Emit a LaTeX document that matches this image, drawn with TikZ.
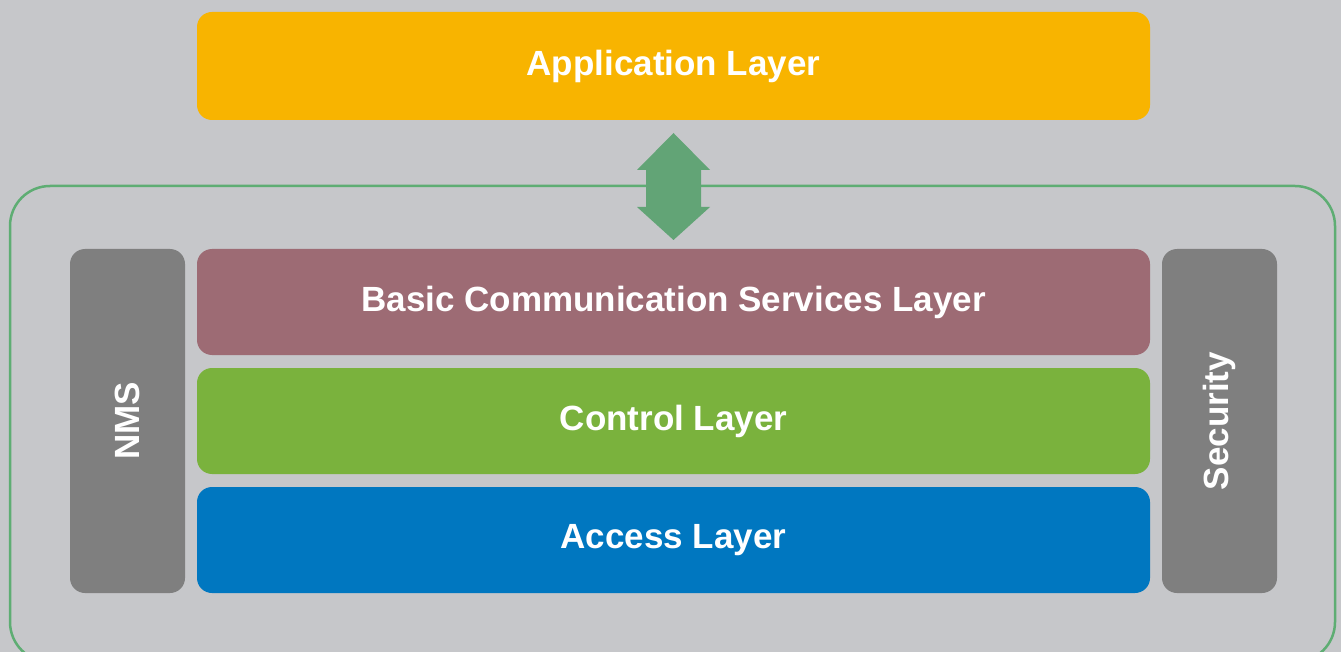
\documentclass[tikz,border=0pt]{standalone}
\usepackage{fontspec}
\setmainfont{Liberation Sans}
\definecolor{bg}{HTML}{C6C7CA}
\definecolor{appc}{HTML}{F8B400}
\definecolor{bcsc}{HTML}{9D6B74}
\definecolor{ctlc}{HTML}{7AB23D}
\definecolor{accc}{HTML}{0077C0}
\definecolor{sidec}{HTML}{7F7F7F}
\definecolor{framec}{HTML}{5EAD73}
\definecolor{arrowc}{HTML}{62A476}
\tikzset{
  layerbox/.style={rounded corners=15pt, inner sep=0pt},
  sidebox/.style={layerbox, fill=sidec},
  label/.style={text=white, inner sep=0pt, font=\fontsize{35}{40}\selectfont\bfseries},
}
\begin{document}
\begin{tikzpicture}[x=1pt,y=-1pt]
  \useasboundingbox (0,0) rectangle (1341,652);
  \fill[bg] (0,0) rectangle (1341,652);
  \begin{scope}
    \clip (0,0) rectangle (1341,652);
    % outer frame around the stack
    \draw[framec, line width=2.5pt, rounded corners=40pt] (10,186) rectangle (1335,662);
  \end{scope}
  % application layer on top
  \node[layerbox, fill=appc, minimum width=953pt, minimum height=108pt] (app) at (673.5,66) {};
  \node[label] (appt) at (673.5,66) {Application Layer};
  % stacked layers
  \node[layerbox, fill=bcsc, minimum width=953pt, minimum height=106pt] (bcs) at (673.5,302) {};
  \node[label] (bcst) at (673.5,302) {Basic Communication Services Layer};
  \node[layerbox, fill=ctlc, minimum width=953pt, minimum height=106pt] (ctl) at (673.5,421) {};
  \node[label] (ctlt) at (673.5,421) {Control Layer};
  \node[layerbox, fill=accc, minimum width=953pt, minimum height=106pt] (acc) at (673.5,540) {};
  \node[label] (acct) at (673.5,540) {Access Layer};
  % side columns
  \node[sidebox, minimum width=115pt, minimum height=344pt] (nms) at (127.5,421) {};
  \node[label, rotate=90] (nmst) at (127.5,421) {NMS};
  \node[sidebox, minimum width=115pt, minimum height=344pt] (sec) at (1219.5,421) {};
  \node[label, rotate=90] (sect) at (1219.5,421) {Security};
  % two-way arrow between application and communication services
  \coordinate (link) at (673.5,186.5);
  \fill[arrowc] (link) ++(0,-53.5) -- ++(36.5,37) -- ++(-9,0) -- ++(0,37)
    -- ++(9,0) -- ++(-36.5,33) -- ++(-36.5,-33) -- ++(9,0) -- ++(0,-37)
    -- ++(-9,0) -- cycle;
\end{tikzpicture}
\end{document}
